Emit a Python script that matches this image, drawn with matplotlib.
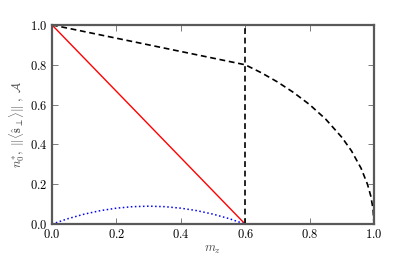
import numpy as np
import matplotlib
matplotlib.use("Agg")
import matplotlib.pyplot as plt
from matplotlib.ticker import FuncFormatter

# values
mz_red = [0.0, 0.6, 1.0]
n0_star = [1.0, 0.0, 0.0]

mz_blue = [0.0, 0.05, 0.1, 0.15, 0.2, 0.25, 0.3, 0.35, 0.4, 0.45, 0.5, 0.55, 0.6]
s_perp = [0.0, 0.0275, 0.05, 0.0675, 0.08, 0.0875, 0.09, 0.0875, 0.08, 0.0675, 0.05, 0.0275, 0.0]

mz_dash = [0.0, 0.6, 0.65, 0.7, 0.75, 0.8, 0.85, 0.9, 0.93, 0.96, 0.98, 0.99, 0.997, 1.0]
asym = [1.0, 0.8, 0.76, 0.714, 0.661, 0.6, 0.527, 0.436, 0.368, 0.28, 0.199, 0.141, 0.077, 0.0]

mz_jump = 0.6

plt.rcParams["mathtext.fontset"] = "cm"
plt.rcParams["font.family"] = "serif"

fig = plt.figure(figsize=(4.16, 2.57), dpi=100)
ax = fig.add_axes([0.125, 0.128, 0.774, 0.775])

ax.plot(mz_red, n0_star, color="red", lw=1.0)
ax.plot(mz_blue, s_perp, color="blue", lw=1.1, linestyle=":")
ax.plot(mz_dash, asym, color="black", lw=1.2, linestyle="--", dashes=(3.5, 2.2))
ax.axvline(mz_jump, color="black", lw=1.2, linestyle="--", dashes=(3.5, 2.2))

ax.set_xlim(0, 1)
ax.set_ylim(0, 1)
ax.set_xticks([0, 0.2, 0.4, 0.6, 0.8, 1.0])
ax.set_yticks([0, 0.2, 0.4, 0.6, 0.8, 1.0])
fmt = FuncFormatter(lambda v, p: r"$%.1f$" % v)
ax.xaxis.set_major_formatter(fmt)
ax.yaxis.set_major_formatter(fmt)
ax.tick_params(direction="in", top=True, right=True, length=4, width=0.6,
               color="0.4", labelsize=9, pad=3)
for sp in ax.spines.values():
    sp.set_linewidth(1.6)
    sp.set_color("0.35")

ax.set_xlabel(r"$m_z$", fontsize=9, color="0.3", labelpad=1)
ax.set_ylabel(r"$n_0^{*},\ \|\langle\hat{\mathbf{s}}_{\perp}\rangle\|\ ,\ \mathcal{A}$",
              fontsize=9, color="0.3", labelpad=2)

fig.savefig("out.png", dpi=100, facecolor="white")
